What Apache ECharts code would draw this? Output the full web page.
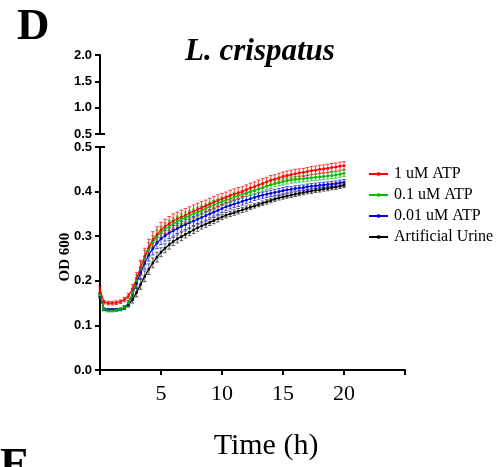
<!DOCTYPE html>
<html>
<head>
<meta charset="utf-8">
<script src="https://cdn.jsdelivr.net/npm/echarts@6/dist/echarts.min.js"></script>
<style>
html,body{margin:0;padding:0;background:#fff;}
#c{width:496px;height:467px;}
</style>
</head>
<body>
<div id="c"></div>
<script>
// Time (h)
const times = [0,0.33,0.67,1,1.33,1.67,2,2.33,2.67,3,3.33,3.67,4,4.33,4.67,5,5.33,5.67,6,6.33,6.67,7,7.33,7.67,8,8.33,8.67,9,9.33,9.67,10,10.33,10.67,11,11.33,11.67,12,12.33,12.67,13,13.33,13.67,14,14.33,14.67,15,15.33,15.67,16,16.33,16.67,17,17.33,17.67,18,18.33,18.67,19,19.33,19.67,20];

const seriesNames = ['1 uM ATP','0.1 uM ATP','0.01 uM ATP','Artificial Urine'];

const atp1 = [0.180,0.152,0.150,0.150,0.151,0.153,0.158,0.166,0.182,0.205,0.230,0.255,0.275,0.292,0.304,0.314,0.322,0.328,0.334,0.339,0.343,0.347,0.352,0.356,0.360,0.364,0.368,0.372,0.376,0.380,0.384,0.387,0.391,0.394,0.397,0.400,0.404,0.408,0.411,0.415,0.418,0.422,0.426,0.428,0.431,0.434,0.436,0.438,0.440,0.442,0.443,0.445,0.447,0.448,0.450,0.451,0.452,0.454,0.455,0.457,0.458];
const atp01 = [0.168,0.136,0.133,0.133,0.134,0.136,0.140,0.150,0.172,0.200,0.228,0.252,0.270,0.286,0.299,0.308,0.316,0.322,0.328,0.333,0.338,0.342,0.346,0.350,0.354,0.358,0.362,0.366,0.370,0.374,0.378,0.381,0.384,0.388,0.391,0.394,0.397,0.400,0.403,0.406,0.409,0.412,0.415,0.418,0.420,0.422,0.424,0.426,0.427,0.428,0.429,0.430,0.431,0.432,0.433,0.434,0.435,0.436,0.437,0.439,0.441];
const atp001 = [0.168,0.136,0.135,0.135,0.135,0.136,0.140,0.150,0.170,0.195,0.218,0.240,0.258,0.272,0.285,0.294,0.301,0.307,0.312,0.317,0.322,0.326,0.330,0.334,0.338,0.342,0.346,0.350,0.354,0.358,0.362,0.366,0.369,0.372,0.375,0.378,0.381,0.384,0.387,0.390,0.392,0.394,0.396,0.398,0.400,0.402,0.404,0.405,0.407,0.408,0.409,0.411,0.412,0.413,0.414,0.415,0.416,0.417,0.418,0.420,0.421];
const urine = [0.166,0.136,0.135,0.135,0.135,0.136,0.139,0.146,0.158,0.174,0.192,0.210,0.226,0.240,0.253,0.264,0.273,0.281,0.288,0.294,0.299,0.304,0.309,0.314,0.319,0.323,0.327,0.331,0.335,0.339,0.343,0.347,0.350,0.353,0.356,0.359,0.362,0.365,0.368,0.371,0.374,0.377,0.380,0.383,0.386,0.388,0.390,0.392,0.394,0.396,0.398,0.400,0.401,0.403,0.404,0.406,0.407,0.409,0.410,0.412,0.414];

const atp1Err = [0.008,0.004,0.004,0.004,0.004,0.004,0.005,0.006,0.010,0.014,0.016,0.018,0.018,0.018,0.017,0.017,0.016,0.016,0.016,0.015,0.015,0.015,0.014,0.014,0.014,0.014,0.013,0.013,0.013,0.013,0.012,0.012,0.012,0.012,0.012,0.011,0.011,0.011,0.011,0.011,0.011,0.010,0.010,0.010,0.010,0.010,0.010,0.010,0.010,0.009,0.009,0.009,0.009,0.009,0.009,0.009,0.009,0.009,0.009,0.009,0.009];
const atp01Err = [0.004,0.003,0.003,0.003,0.003,0.003,0.004,0.006,0.010,0.013,0.015,0.016,0.016,0.015,0.015,0.014,0.014,0.013,0.013,0.012,0.012,0.012,0.011,0.011,0.011,0.010,0.010,0.010,0.010,0.009,0.009,0.009,0.009,0.009,0.008,0.008,0.008,0.008,0.008,0.008,0.008,0.008,0.008,0.007,0.007,0.007,0.007,0.007,0.007,0.007,0.007,0.007,0.007,0.007,0.007,0.007,0.007,0.007,0.007,0.007,0.007];
const atp001Err = [0.005,0.003,0.003,0.003,0.003,0.003,0.004,0.006,0.009,0.012,0.013,0.014,0.014,0.014,0.013,0.013,0.012,0.012,0.012,0.011,0.011,0.011,0.011,0.010,0.010,0.010,0.010,0.009,0.009,0.009,0.009,0.009,0.008,0.008,0.008,0.008,0.008,0.008,0.007,0.007,0.007,0.007,0.007,0.007,0.007,0.007,0.007,0.006,0.006,0.006,0.006,0.006,0.006,0.006,0.006,0.006,0.006,0.006,0.006,0.006,0.006];
const urineErr = [0.004,0.002,0.002,0.002,0.002,0.002,0.003,0.005,0.008,0.010,0.011,0.012,0.012,0.011,0.011,0.010,0.010,0.010,0.009,0.009,0.009,0.008,0.008,0.008,0.008,0.007,0.007,0.007,0.007,0.007,0.006,0.006,0.006,0.006,0.006,0.006,0.006,0.005,0.005,0.005,0.005,0.005,0.005,0.005,0.005,0.005,0.005,0.005,0.005,0.005,0.005,0.005,0.005,0.005,0.005,0.005,0.005,0.005,0.005,0.005,0.005];

const xTicks = [5,10,15,20];
const lowerYTicks = [0,0.1,0.2,0.3,0.4,0.5];
const upperYTicks = [0.5,1.0,1.5,2.0];

const colors = ['#ff0000','#00c000','#0000dd','#000000'];
const errColors = ['rgba(255,0,0,0.75)','rgba(0,190,0,0.75)','rgba(0,0,220,0.7)','rgba(0,0,0,0.6)'];
const values = [atp1, atp01, atp001, urine];
const errs = [atp1Err, atp01Err, atp001Err, urineErr];

const SERIF = '"Liberation Serif","Times New Roman",serif';
const SANS = '"Liberation Sans",Arial,sans-serif';

const chart = echarts.init(document.getElementById('c'), null, {renderer:'canvas'});

const series = [];
// draw order: urine first, red last
[3,2,1,0].forEach(function(i){
  series.push({
    name: seriesNames[i] + ' err',
    type: 'custom',
    xAxisIndex: 1, yAxisIndex: 1,
    silent: true,
    z: 2,
    data: times.map(function(t,k){ return [t, values[i][k], errs[i][k]]; }),
    renderItem: function(params, api){
      const t = api.value(0), v = api.value(1), e = api.value(2);
      const hi = api.coord([t, v + e]);
      const lo = api.coord([t, v - e]);
      const w = 1.8;
      const st = {stroke: errColors[i], lineWidth: 1};
      return {type:'group', children:[
        {type:'line', shape:{x1:hi[0],y1:hi[1],x2:lo[0],y2:lo[1]}, style:st},
        {type:'line', shape:{x1:hi[0]-w,y1:hi[1],x2:hi[0]+w,y2:hi[1]}, style:st},
        {type:'line', shape:{x1:lo[0]-w,y1:lo[1],x2:lo[0]+w,y2:lo[1]}, style:st}
      ]};
    }
  });
  series.push({
    name: seriesNames[i],
    type: 'line',
    xAxisIndex: 1, yAxisIndex: 1,
    z: 3,
    data: times.map(function(t,k){ return [t, values[i][k]]; }),
    symbol: 'rect',
    symbolSize: 2.5,
    showSymbol: true,
    lineStyle: {color: colors[i], width: 1.2},
    itemStyle: {color: colors[i]},
    emphasis: {disabled: true}
  });
});

const axisLabelY = {fontFamily: SANS, fontWeight: 'bold', fontSize: 13, color: '#000', margin: 8,
  formatter: function(v){ return Number(v).toFixed(1); }};

chart.setOption({
  animation: false,
  backgroundColor: '#fff',
  grid: [
    {left: 100, top: 55, width: 305, height: 79},
    {left: 100, top: 147, width: 305, height: 223}
  ],
  xAxis: [
    {gridIndex: 0, type: 'value', min: 0, max: 25, show: false},
    {gridIndex: 1, type: 'value', min: 0, max: 25, interval: 5,
      axisLine: {show: true, onZero: false, lineStyle: {color: '#000', width: 2}},
      axisTick: {show: true, length: 5, lineStyle: {color: '#000', width: 2}},
      splitLine: {show: false},
      axisLabel: {fontFamily: SERIF, fontSize: 22, color: '#000', margin: 13,
        formatter: function(v){ return xTicks.indexOf(v) >= 0 ? String(v) : ''; }}
    }
  ],
  yAxis: [
    {gridIndex: 0, type: 'value', min: upperYTicks[0], max: upperYTicks[upperYTicks.length-1], interval: 0.5,
      axisLine: {show: true, lineStyle: {color: '#000', width: 2}},
      axisTick: {show: true, length: 5, lineStyle: {color: '#000', width: 2}},
      splitLine: {show: false},
      axisLabel: axisLabelY
    },
    {gridIndex: 1, type: 'value', min: lowerYTicks[0], max: lowerYTicks[lowerYTicks.length-1], interval: 0.1,
      axisLine: {show: true, onZero: false, lineStyle: {color: '#000', width: 2}},
      axisTick: {show: true, length: 5, lineStyle: {color: '#000', width: 2}},
      splitLine: {show: false},
      axisLabel: axisLabelY
    }
  ],
  legend: {
    data: seriesNames,
    orient: 'vertical',
    left: 363, top: 161,
    itemWidth: 19, itemHeight: 4, itemGap: 5,
    selectedMode: false,
    textStyle: {fontFamily: SERIF, fontSize: 16, color: '#000', padding: [0,0,0,1]}
  },
  series: series
});

// decorations: axis-break caps, titles
const capUpper = chart.convertToPixel({gridIndex: 0}, [0, upperYTicks[0]]);
const capLower = chart.convertToPixel({gridIndex: 1}, [0, lowerYTicks[lowerYTicks.length-1]]);
chart.setOption({
  graphic: [
    {type:'line', shape:{x1:capUpper[0]-5, y1:capUpper[1], x2:capUpper[0]+5, y2:capUpper[1]}, style:{stroke:'#000', lineWidth:2}},
    {type:'line', shape:{x1:capLower[0]-5, y1:capLower[1], x2:capLower[0]+5, y2:capLower[1]}, style:{stroke:'#000', lineWidth:2}},
    {type:'text', left: 17, top: 5, style:{text:'D', font:'bold 45px ' + SERIF, fill:'#000'}},
    {type:'text', left: 0, top: 444, style:{text:'E', font:'bold 45px ' + SERIF, fill:'#000'}},
    {type:'text', x: 260, y: 52, style:{text:'L. crispatus', font:'italic bold 31px ' + SERIF, fill:'#000', align:'center', verticalAlign:'middle'}},
    {type:'text', x: 266, y: 446, style:{text:'Time (h)', font:'30px ' + SERIF, fill:'#000', align:'center', verticalAlign:'middle'}},
    {type:'text', x: 65, y: 257, rotation: Math.PI/2, style:{text:'OD 600', font:'bold 15px ' + SERIF, fill:'#000', align:'center', verticalAlign:'middle'}}
  ]
});
</script>
</body>
</html>
